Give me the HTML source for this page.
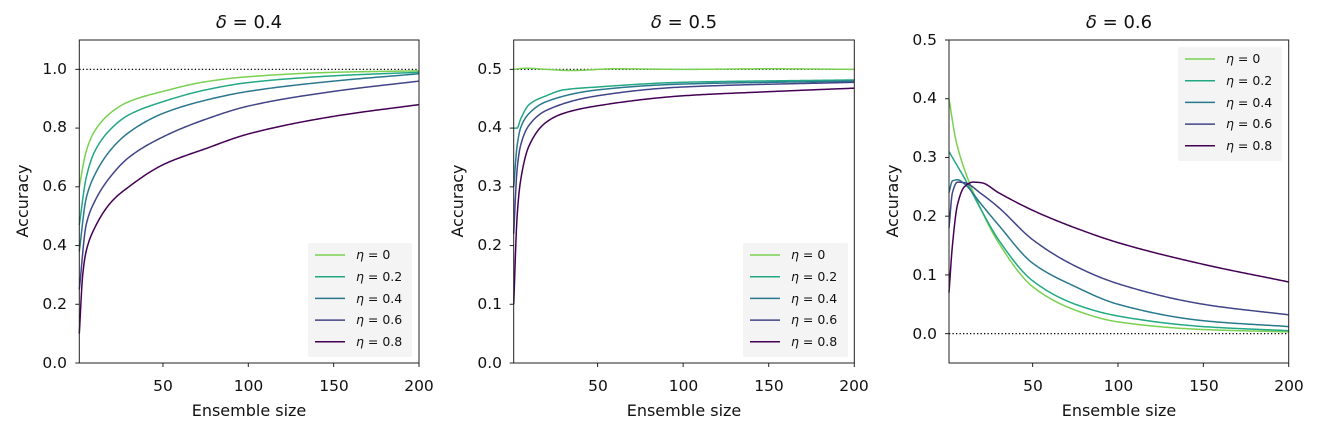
<!DOCTYPE html>
<html><head><meta charset="utf-8"><style>
html,body{margin:0;padding:0;background:#fff;}
svg{display:block;font-family:"DejaVu Sans","Liberation Sans",sans-serif;}
</style></head><body>
<svg id="s" width="1319" height="432" viewBox="0 0 1319 432" xmlns="http://www.w3.org/2000/svg">
<rect width="1319" height="432" fill="#fff"/>
<g font-size="18" text-anchor="middle" fill="#111">
<text x="249" y="28"><tspan font-style="italic">δ</tspan> = 0.4</text>
<text x="684" y="28"><tspan font-style="italic">δ</tspan> = 0.5</text>
<text x="1119" y="28"><tspan font-style="italic">δ</tspan> = 0.6</text>
</g>
<g font-size="16" text-anchor="middle" fill="#111">
<text x="249" y="416">Ensemble size</text>
<text x="684" y="416">Ensemble size</text>
<text x="1119" y="416">Ensemble size</text>
<text transform="translate(28,201) rotate(-90)">Accuracy</text>
<text transform="translate(463,201) rotate(-90)">Accuracy</text>
<text transform="translate(898,201) rotate(-90)">Accuracy</text>
</g>
<g font-size="15.5" text-anchor="middle" fill="#111">
<text x="163" y="391">50</text><text x="248.5" y="391">100</text><text x="334" y="391">150</text><text x="419" y="391">200</text>
<text x="598" y="391">50</text><text x="683.5" y="391">100</text><text x="769" y="391">150</text><text x="854" y="391">200</text>
<text x="1033" y="391">50</text><text x="1118.5" y="391">100</text><text x="1204" y="391">150</text><text x="1289" y="391">200</text>
</g>
<g font-size="15.5" text-anchor="end" fill="#111">
<text x="67" y="368">0.0</text><text x="67" y="309">0.2</text><text x="67" y="250">0.4</text><text x="67" y="191">0.6</text><text x="67" y="132">0.8</text><text x="67" y="74">1.0</text>
<text x="502" y="368">0.0</text><text x="502" y="309">0.1</text><text x="502" y="250">0.2</text><text x="502" y="191">0.3</text><text x="502" y="132">0.4</text><text x="502" y="74">0.5</text>
<text x="937" y="339">0.0</text><text x="937" y="280">0.1</text><text x="937" y="221">0.2</text><text x="937" y="162">0.3</text><text x="937" y="103">0.4</text><text x="937" y="45">0.5</text>
</g>
<g id="plots"></g>
<g font-size="12.5" fill="#111">
<g><text x="356" y="259"><tspan font-style="italic">η</tspan> = 0</text><text x="356" y="281"><tspan font-style="italic">η</tspan> = 0.2</text><text x="356" y="303"><tspan font-style="italic">η</tspan> = 0.4</text><text x="356" y="324"><tspan font-style="italic">η</tspan> = 0.6</text><text x="356" y="346"><tspan font-style="italic">η</tspan> = 0.8</text></g>
<g><text x="791" y="259"><tspan font-style="italic">η</tspan> = 0</text><text x="791" y="281"><tspan font-style="italic">η</tspan> = 0.2</text><text x="791" y="303"><tspan font-style="italic">η</tspan> = 0.4</text><text x="791" y="324"><tspan font-style="italic">η</tspan> = 0.6</text><text x="791" y="346"><tspan font-style="italic">η</tspan> = 0.8</text></g>
<g><text x="1226" y="63"><tspan font-style="italic">η</tspan> = 0</text><text x="1226" y="85"><tspan font-style="italic">η</tspan> = 0.2</text><text x="1226" y="107"><tspan font-style="italic">η</tspan> = 0.4</text><text x="1226" y="128"><tspan font-style="italic">η</tspan> = 0.6</text><text x="1226" y="150"><tspan font-style="italic">η</tspan> = 0.8</text></g>
</g>
</svg>
<script>
var C=["#7ad151","#22a884","#2a788e","#414487","#440154"];
var P=[
{L:79.3,R:419,ymin:0,ymax:1.1,ref:1,leg:[308,243,412,357],
 d:[[[1,.6],[5,.72],[10,.79],[20,.855],[30,.89],[50,.925],[75,.958],[100,.975],[150,.99],[200,.995]],
 [[1,.47],[5,.63],[10,.72],[20,.8],[30,.845],[50,.89],[75,.93],[100,.955],[150,.978],[200,.99]],
 [[1,.38],[5,.56],[10,.64],[20,.73],[30,.785],[50,.85],[75,.895],[100,.925],[150,.96],[200,.985]],
 [[1,.25],[5,.47],[10,.55],[20,.64],[30,.7],[50,.77],[75,.83],[100,.875],[150,.925],[200,.96]],
 [[1,.1],[3,.3],[5,.38],[10,.46],[20,.55],[30,.6],[50,.675],[75,.73],[100,.78],[150,.84],[200,.88]]]},
{L:513.7,R:854.3,ymin:0,ymax:.55,ref:.5,leg:[743,243,848,357],
 d:[[[1,.5],[8,.502],[20,.5],[35,.498],[60,.501],[100,.5],[150,.501],[200,.5]],
 [[1,.4],[3,.4],[5,.415],[10,.44],[20,.455],[30,.465],[50,.47],[100,.478],[200,.482]],
 [[1,.3],[3,.37],[5,.4],[10,.425],[20,.445],[50,.465],[100,.475],[200,.48]],
 [[1,.22],[3,.33],[5,.37],[10,.405],[20,.43],[50,.455],[100,.47],[200,.478]],
 [[1,.1],[3,.25],[5,.31],[10,.37],[20,.41],[30,.425],[50,.438],[100,.455],[150,.462],[200,.468]]]},
{L:949,R:1288.7,ymin:-.05,ymax:.5,ref:0,leg:[1178,47,1282,161],
 d:[[[1,.4],[5,.33],[10,.28],[20,.21],[30,.155],[50,.08],[75,.04],[100,.02],[150,.007],[200,.003]],
 [[1,.31],[5,.29],[10,.265],[20,.21],[30,.16],[50,.09],[75,.05],[100,.03],[150,.012],[200,.005]],
 [[1,.24],[3,.26],[6,.262],[10,.255],[20,.22],[30,.185],[50,.12],[75,.08],[100,.05],[150,.022],[200,.012]],
 [[1,.18],[3,.24],[6,.258],[10,.257],[20,.238],[30,.215],[50,.16],[75,.115],[100,.085],[150,.05],[200,.032]],
 [[1,.07],[3,.15],[6,.22],[10,.25],[15,.258],[20,.257],[30,.24],[50,.21],[75,.18],[100,.155],[150,.118],[200,.088]]]}];
function pchip(xs,ys){var n=xs.length,h=[],d=[],m=[];for(var i=0;i<n-1;i++){h[i]=xs[i+1]-xs[i];d[i]=(ys[i+1]-ys[i])/h[i];}
 m[0]=d[0];m[n-1]=d[n-2];for(i=1;i<n-1;i++){if(d[i-1]*d[i]<=0)m[i]=0;else{var w1=2*h[i]+h[i-1],w2=h[i]+2*h[i-1];m[i]=(w1+w2)/(w1/d[i-1]+w2/d[i]);}}
 return function(x){for(var k=0;k<n-2&&x>xs[k+1];k++);var t=(x-xs[k])/h[k],t2=t*t,t3=t2*t;
  return (2*t3-3*t2+1)*ys[k]+(t3-2*t2+t)*h[k]*m[k]+(-2*t3+3*t2)*ys[k+1]+(t3-t2)*h[k]*m[k+1];};}
var T=40,B=363,h='';
P.forEach(function(p){
 var sx=function(n){return p.L+(n-1)*(p.R-p.L)/199},sy=function(v){return B-(v-p.ymin)*(B-T)/(p.ymax-p.ymin)};
 h+='<line x1="'+p.L+'" x2="'+p.R+'" y1="'+sy(p.ref)+'" y2="'+sy(p.ref)+'" stroke="#000" stroke-width="1.3" stroke-dasharray="1.3,2.2"/>';
 p.d.forEach(function(pts,i){
  var f=pchip(pts.map(function(a){return a[0]}),pts.map(function(a){return a[1]}));var s='';
  for(var n=1;n<=200;n+=(n<20?0.25:1)){s+=(s?'L':'M')+sx(n).toFixed(2)+','+sy(f(n)).toFixed(2);}
  h+='<path d="'+s+'" fill="none" stroke="'+C[i]+'" stroke-width="1.5" stroke-linejoin="round"/>';
 });
 h+='<rect x="'+p.L+'" y="'+T+'" width="'+(p.R-p.L)+'" height="'+(B-T)+'" fill="none" stroke="#222" stroke-width="1"/>';
 [50,100,150,200].forEach(function(n){h+='<line x1="'+sx(n)+'" x2="'+sx(n)+'" y1="'+B+'" y2="'+(B+4)+'" stroke="#222"/>'});
 var g=p.leg;h+='<rect x="'+g[0]+'" y="'+g[1]+'" width="'+(g[2]-g[0])+'" height="'+(g[3]-g[1])+'" rx="2" fill="#f3f3f3" opacity="0.9"/>';
 for(var i=0;i<5;i++){var yy=g[1]+12+i*21.7;h+='<line x1="'+(g[0]+7)+'" x2="'+(g[0]+37)+'" y1="'+yy+'" y2="'+yy+'" stroke="'+C[i]+'" stroke-width="1.5"/>';}
});
function yt(L,vals,ymin,ymax){vals.forEach(function(v){var y=B-(v-ymin)*(B-T)/(ymax-ymin);h+='<line x1="'+(L-4)+'" x2="'+L+'" y1="'+y+'" y2="'+y+'" stroke="#222"/>'});}
yt(79.3,[0,.2,.4,.6,.8,1],0,1.1);yt(513.7,[0,.1,.2,.3,.4,.5],0,.55);yt(949,[0,.1,.2,.3,.4,.5],-.05,.5);
document.getElementById('plots').innerHTML=h;
</script>
</body></html>
